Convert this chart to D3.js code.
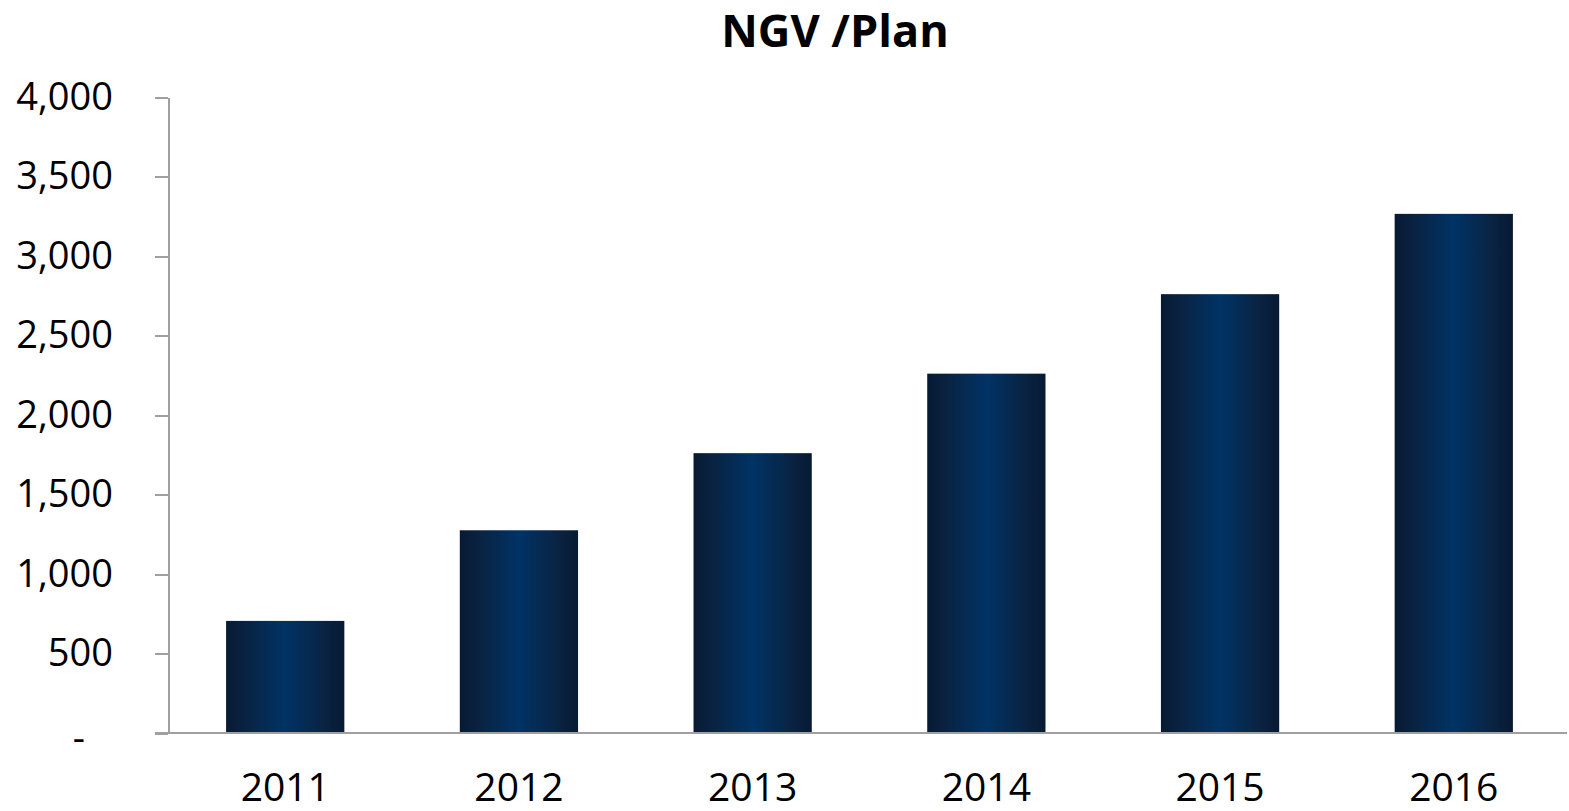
<!DOCTYPE html>
<meta charset="utf-8">
<style>
body { margin: 0; background: #fff; }
.axis path, .axis line { fill: none; stroke: #a0a0a0; stroke-width: 2; shape-rendering: crispEdges; }
.axis text { font-family: "Open Sans", sans-serif; fill: #000; }
.title { font-family: "Open Sans", sans-serif; font-weight: bold; font-size: 45px; }
</style>
<body></body>
<script src="https://cdnjs.cloudflare.com/ajax/libs/d3/7.8.5/d3.min.js"></script>
<script>
// values
var years = ["2011", "2012", "2013", "2014", "2015", "2016"];
var ngv = [705, 1275, 1760, 2260, 2760, 3265];
var yTicks = [0, 500, 1000, 1500, 2000, 2500, 3000, 3500, 4000];

var margin = {top: 97, right: 2, bottom: 78, left: 168},
    width = 1569 - margin.left - margin.right,
    height = 811 - margin.top - margin.bottom;

var svg = d3.select("body").append("svg")
    .attr("width", 1569)
    .attr("height", 811);

// bar gradient: dark edges, lighter middle
var grad = svg.append("defs").append("linearGradient")
    .attr("id", "barGrad")
    .attr("x1", "0%").attr("x2", "100%").attr("y1", "0%").attr("y2", "0%");
grad.append("stop").attr("offset", "0%").attr("stop-color", "#061a33");
grad.append("stop").attr("offset", "15%").attr("stop-color", "#0a2240");
grad.append("stop").attr("offset", "50%").attr("stop-color", "#003366");
grad.append("stop").attr("offset", "85%").attr("stop-color", "#0a2240");
grad.append("stop").attr("offset", "100%").attr("stop-color", "#061a33");

var g = svg.append("g")
    .attr("transform", "translate(" + margin.left + "," + margin.top + ")");

var xScale = d3.scaleBand().domain(years).range([2, width + 2])
    .paddingInner(0.494).paddingOuter(0.24);
var yScale = d3.scaleLinear().domain([0, 4000]).range([height, 0]);

var fmt = d3.format(",");

g.append("g")
    .attr("class", "y axis")
    .call(d3.axisLeft(yScale).tickValues(yTicks).tickSize(13).tickPadding(42)
      .tickSizeOuter(0)
      .tickFormat(function(d) { return d === 0 ? "-" : fmt(d); }))
    .selectAll("text")
    .style("font-size", "38px")
    .attr("dx", function(d) { return d === 0 ? "-28" : 0; })
    .attr("dy", function(d) { return d === 0 ? "0.45em" : "0.32em"; });

g.selectAll(".bar")
    .data(ngv)
    .enter().append("rect")
    .attr("class", "bar")
    .attr("x", function(d, i) { return xScale(years[i]); })
    .attr("width", xScale.bandwidth())
    .attr("y", function(d) { return yScale(d); })
    .attr("height", function(d) { return height - yScale(d); })
    .attr("fill", "url(#barGrad)");

var xAxis = g.append("g")
    .attr("class", "x axis")
    .attr("transform", "translate(0," + height + ")")
    .call(d3.axisBottom(xScale).tickSize(0).tickPadding(40).tickSizeOuter(0));
xAxis.select(".domain").attr("d", "M-13,0H" + width);
xAxis.selectAll("text").style("font-size", "39px");

svg.append("text")
    .attr("class", "title")
    .attr("x", 835)
    .attr("y", 47)
    .attr("text-anchor", "middle")
    .text("NGV /Plan");
</script>
